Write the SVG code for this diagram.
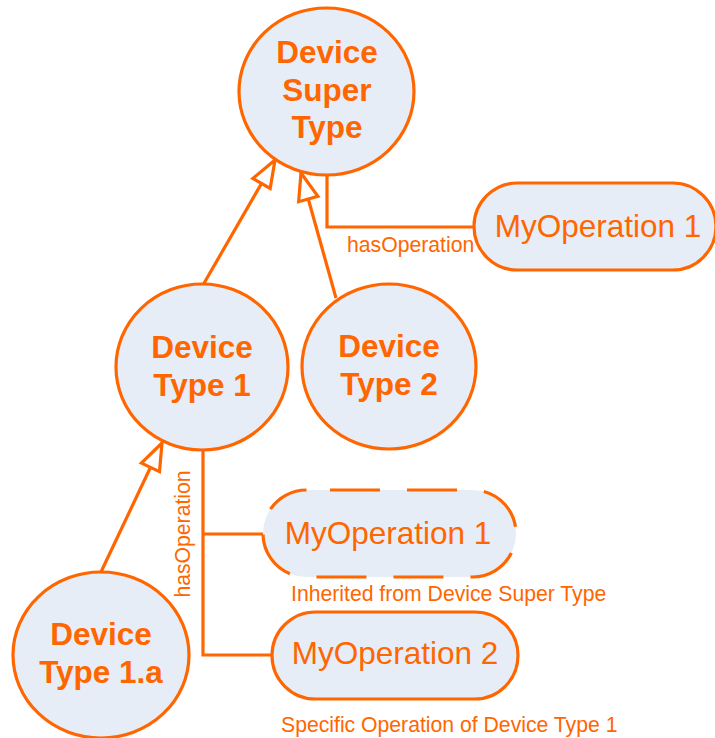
<svg xmlns="http://www.w3.org/2000/svg" width="715" height="738" viewBox="0 0 715 738">
<style>
.node{fill:#E7EDF7;stroke:#FF6600;stroke-width:3.2}
.dash{stroke-dasharray:50 27;stroke-dashoffset:53.5}
.bold{font-family:"Liberation Sans",Arial,sans-serif;font-weight:bold;font-size:31.5px;fill:#FF6600;text-anchor:middle}
.op{font-family:"Liberation Sans",Arial,sans-serif;font-size:31.5px;fill:#FF6600;text-anchor:middle}
.lbl{font-family:"Liberation Sans",Arial,sans-serif;font-size:21.2px;fill:#FF6600}
.line{fill:none;stroke:#FF6600;stroke-width:3.2}
</style>
<defs>
<marker id="tri" markerUnits="userSpaceOnUse" markerWidth="32" markerHeight="26" refX="28" refY="12" orient="auto" overflow="visible">
<path d="M28,12 L1,2 L1,22 Z" fill="#FFFFFF" stroke="#FF6600" stroke-width="3.2" stroke-linejoin="miter"/>
</marker>
</defs>
<g id="connectors">
<line class="line" x1="203" y1="285" x2="275" y2="160" marker-end="url(#tri)"/>
<line class="line" x1="336" y1="298" x2="301" y2="173" marker-end="url(#tri)"/>
<line class="line" x1="101" y1="572" x2="162" y2="443" marker-end="url(#tri)"/>
<polyline class="line" points="327,175 327,227 474,227"/>
<polyline class="line" points="203,450 203,655 272,655"/>
<line class="line" x1="203" y1="534" x2="263" y2="534"/>
<text class="lbl" x="347" y="252">hasOperation</text>
<text class="lbl" transform="translate(190,534) rotate(-90)" text-anchor="middle">hasOperation</text>
</g>
<g id="device-super-type">
<ellipse class="node" cx="326.5" cy="91.5" rx="87.5" ry="83.5"/>
<text class="bold" x="327" y="63">Device</text>
<text class="bold" x="327" y="100.5">Super</text>
<text class="bold" x="327" y="138">Type</text>
</g>
<g id="myoperation1-top">
<rect class="node" x="474" y="183" width="242" height="87" rx="43.5" ry="43.5"/>
<text class="op" x="598" y="237">MyOperation 1</text>
</g>
<g id="device-type-1">
<ellipse class="node" cx="202" cy="367" rx="86" ry="83"/>
<text class="bold" x="202" y="358">Device</text>
<text class="bold" x="202" y="396">Type 1</text>
</g>
<g id="device-type-2">
<ellipse class="node" cx="389" cy="366.5" rx="87" ry="82.5"/>
<text class="bold" x="389" y="357">Device</text>
<text class="bold" x="389" y="395">Type 2</text>
</g>
<g id="myoperation1-inherited">
<rect class="node dash" x="263" y="490" width="253" height="87" rx="43.5" ry="43.5"/>
<text class="op" x="388" y="544">MyOperation 1</text>
<text class="lbl" x="291" y="601">Inherited from Device Super Type</text>
</g>
<g id="myoperation2">
<rect class="node" x="272" y="612" width="246" height="87" rx="43.5" ry="43.5"/>
<text class="op" x="395" y="664">MyOperation 2</text>
<text class="lbl" x="281" y="732">Specific Operation of Device Type 1</text>
</g>
<g id="device-type-1a">
<ellipse class="node" cx="101" cy="655" rx="88" ry="83"/>
<text class="bold" x="101" y="645">Device</text>
<text class="bold" x="101" y="683">Type 1.a</text>
</g>
</svg>
